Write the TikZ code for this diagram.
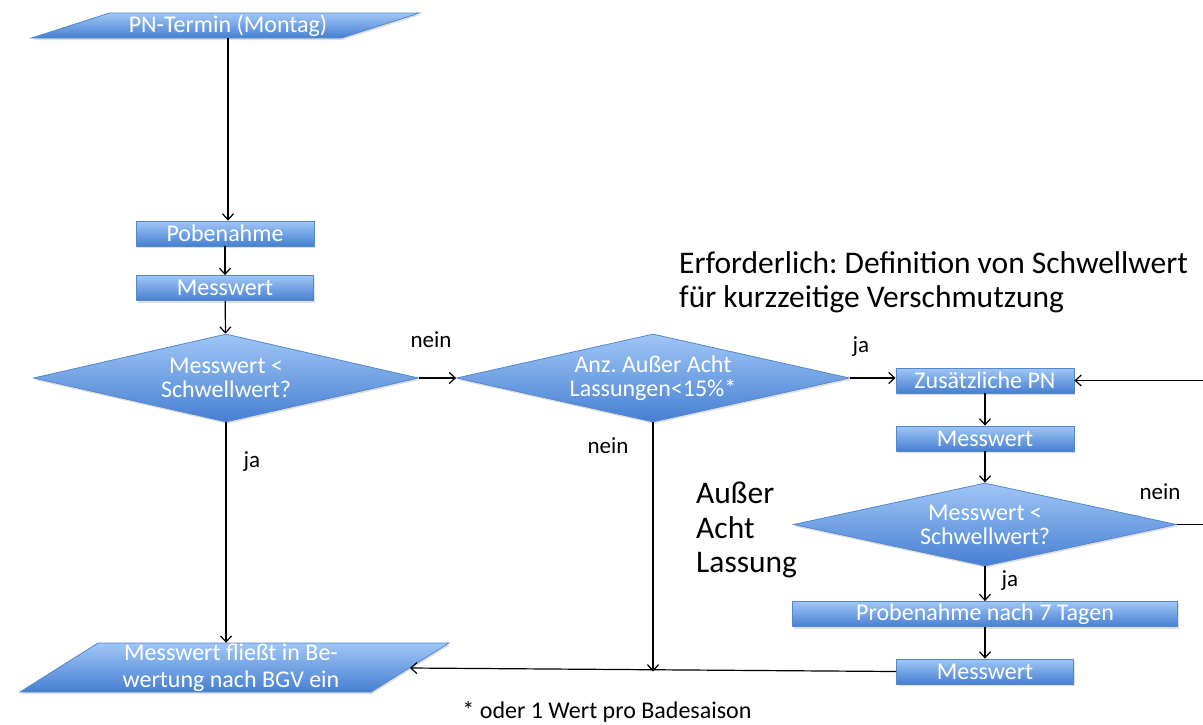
\documentclass[tikz,border=0pt]{standalone}
\usepackage{fontspec}
\setmainfont{Carlito}
\frenchspacing
\usetikzlibrary{shapes.geometric,shadows,arrows.meta}

\definecolor{flowtop}{RGB}{160,198,246}
\definecolor{flowbottom}{RGB}{70,127,210}
\definecolor{flowedge}{RGB}{84,136,204}

\begin{document}
\begin{tikzpicture}[x=1pt,y=-1pt,
    flow/.style={draw=flowedge, line width=0.8pt, top color=flowtop, bottom color=flowbottom,
        drop shadow={shadow xshift=1pt, shadow yshift=-2pt, opacity=0.25}},
    proc/.style={flow, rectangle, minimum height=25pt, inner sep=0pt, text=white,
        font=\fontsize{24}{26}\selectfont},
    dec/.style={flow, diamond, aspect=4.4, inner sep=0pt, align=center, text=white,
        font=\fontsize{24}{24}\selectfont},
    iotext/.style={inner sep=0pt, align=center, text=white, font=\fontsize{24}{27}\selectfont},
    arr/.style={-{Straight Barb[length=6pt,width=11pt,line width=1.2pt]}, line width=1.2pt},
    lbl/.style={inner sep=0pt, font=\fontsize{23}{26}\selectfont},
    note/.style={inner sep=0pt, align=left, font=\fontsize{31.5}{34.5}\selectfont}]
    \useasboundingbox (0,0) rectangle (1203,724);

    % Start (parallelogram)
    \path[flow] (109.5,13) -- (419.5,13) -- (341.5,38) -- (31.5,38) -- cycle;
    \node[iotext, minimum height=25pt] (termin) at (228,25.5) {PN-Termin (Montag)};

    % Left column
    \node[proc, minimum width=178pt] (probe) at (225,233.5) {Pobenahme};
    \node[proc, minimum width=177pt] (mess1) at (225,288) {Messwert};
    \node[dec, minimum width=385pt, minimum height=88pt] (check1) at (226,378) {Messwert <\\Schwellwert?};

    % Result (parallelogram)
    \path[flow] (98,643) -- (449,643) -- (371,692) -- (20,692) -- cycle;
    \node[iotext, minimum height=49pt] (bgv) at (231,667.5) {Messwert fließt in Be-\\wertung nach BGV ein};
    \coordinate (bgv-in) at (410,668);

    % Middle
    \node[dec, minimum width=393pt, minimum height=88pt] (quota) at (653,378) {Anz. Außer Acht\\Lassungen<15\%*};

    % Right column
    \node[proc, minimum width=178pt] (extra) at (985,380.5) {Zusätzliche PN};
    \node[proc, minimum width=178pt] (mess2) at (985,438.5) {Messwert};
    \node[dec, minimum width=383pt, minimum height=83pt] (check2) at (985,524.5) {Messwert <\\Schwellwert?};
    \node[proc, minimum width=385pt] (probe7) at (985,614) {Probenahme nach 7 Tagen};
    \node[proc, minimum width=177pt] (mess3) at (985,671.5) {Messwert};

    % Connectors
    \draw[arr] (termin.south) -- (termin.south |- probe.north);
    \draw[arr] (probe) -- (mess1);
    \draw[arr] (mess1) -- (check1);
    \draw[arr] (check1.south) -- (check1.south |- bgv.north);
    \draw[arr] (check1.east) -- (quota.west);
    \draw[arr] (quota.east) -- (quota.east -| extra.west);
    \draw[arr] (quota.south) -- (quota.south |- mess3.west);
    \draw[arr] (extra) -- (mess2);
    \draw[arr] (mess2) -- (check2);
    \draw[arr] (check2) -- (probe7);
    \draw[arr] (probe7) -- (mess3);
    \draw[arr] (mess3.west) -- (bgv-in);
    \draw[arr] (check2.east) -- ++(35,0) |- (extra.east);

    % Labels
    \node[lbl] (l1) at (431,340) {nein};
    \node[lbl] (l2) at (252,462) {ja};
    \node[lbl] (l3) at (861,347) {ja};
    \node[lbl] (l4) at (608,446) {nein};
    \node[lbl] (l5) at (1160,492) {nein};
    \node[lbl] (l6) at (1010,581) {ja};

    % Notes
    \node[note, anchor=north west] (req) at (679,251) {Erforderlich: Definition von Schwellwert\\für kurzzeitige Verschmutzung};
    \node[note, anchor=north west] (skip) at (696,482) {Außer\\Acht\\Lassung};
    \node[lbl, font=\fontsize{24}{26}\selectfont] (foot) at (607,712) {* oder 1 Wert pro Badesaison};
\end{tikzpicture}
\end{document}
